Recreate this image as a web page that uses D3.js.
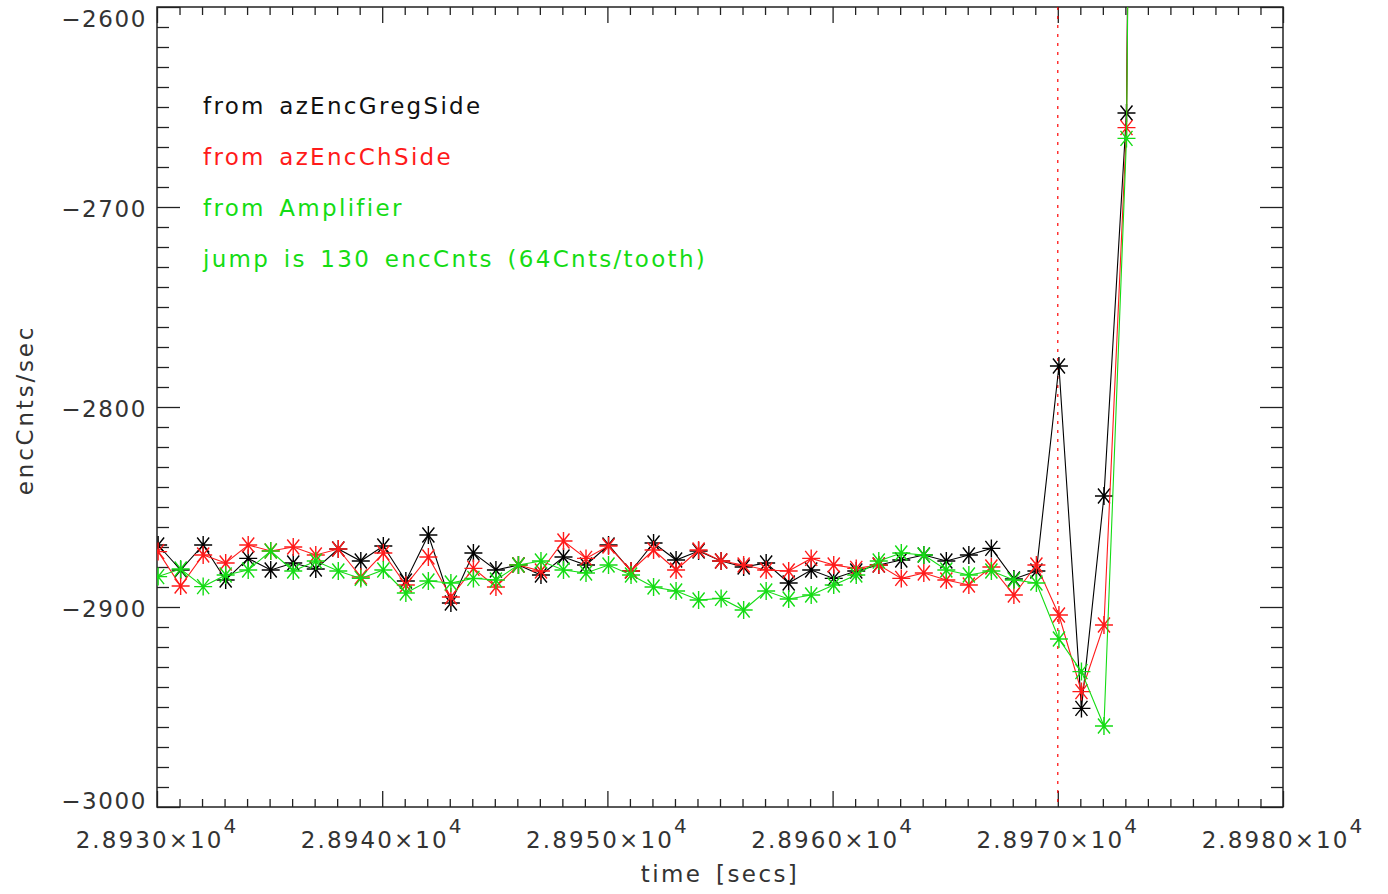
<!DOCTYPE html>
<html><head><meta charset="utf-8">
<script src="https://cdn.jsdelivr.net/npm/d3@7"></script>
<style>
html,body{margin:0;padding:0;background:#fff;}
svg text{font-family:"DejaVu Sans",sans-serif;}
</style></head>
<body><svg id="c" width="1388" height="894"></svg>
<script>
// ---- data ----
const times = [28930.05,28931.05,28932.05,28933.05,28934.05,28935.05,28936.05,28937.05,28938.05,28939.05,
  28940.05,28941.05,28942.05,28943.05,28944.05,28945.05,28946.05,28947.05,28948.05,28949.05,
  28950.05,28951.05,28952.05,28953.05,28954.05,28955.05,28956.05,28957.05,28958.05,28959.05,
  28960.05,28961.05,28962.05,28963.05,28964.05,28965.05,28966.05,28967.05,28968.05,28969.05,
  28970.05,28971.05,28972.05,28973.05,28974.05];
const gregSide = [-2869,-2881.5,-2869,-2886.5,-2875.7,-2881.5,-2878,-2881,-2871,-2877,
  -2869.5,-2887,-2864,-2898,-2873,-2881.5,-2879,-2884,-2875,-2879,
  -2869,-2882,-2868,-2876.5,-2872,-2877,-2880,-2878,-2888,-2881.5,
  -2885.7,-2882,-2879,-2876.5,-2874,-2877,-2874,-2870.7,-2886,-2882,
  -2779.5,-2950.7,-2844.5,-2653,-1450];
const chSide = [-2872.3,-2889.5,-2874,-2878,-2869,-2872,-2870,-2874,-2871,-2885,
  -2873,-2889,-2875,-2895,-2880.7,-2890,-2879,-2882,-2867,-2875.7,
  -2869.5,-2882,-2871.5,-2881.5,-2871.5,-2877,-2879,-2881.5,-2882,-2875.7,
  -2879,-2880.7,-2879,-2885.7,-2883,-2886.5,-2889,-2880,-2894,-2879,
  -2904,-2942.3,-2909,-2660.3,-1400];
const amplifier = [-2884.8,-2881,-2889.8,-2884,-2881.5,-2872,-2882,-2877,-2882,-2885.7,
  -2881.5,-2893,-2887,-2888,-2885.7,-2886.5,-2879,-2877,-2881.5,-2883,
  -2879,-2884,-2890,-2892,-2896.5,-2895.7,-2901.5,-2892,-2896,-2894,
  -2889,-2884,-2877,-2873,-2874,-2881.5,-2884,-2882,-2886.5,-2888,
  -2916,-2932.3,-2959.5,-2665.7,-1450];
const jumpTime = 28970;
const xMajorTicks = [28930,28940,28950,28960,28970,28980];
const xTickMantissa = ["2.8930","2.8940","2.8950","2.8960","2.8970","2.8980"];
const yMajorTicks = [-3000,-2900,-2800,-2700,-2600];
const legendTexts = ["from azEncGregSide","from azEncChSide","from Amplifier","jump is 130 encCnts (64Cnts/tooth)"];
const seriesList = [
  {name:"from azEncGregSide", values:gregSide, color:"#000000"},
  {name:"from azEncChSide", values:chSide, color:"#ff1a1a"},
  {name:"from Amplifier", values:amplifier, color:"#14dc14"}
];
const legendColors = ["#111111","#ff1a1a","#14dc14","#14dc14"];

// ---- layout ----
const L=157, R=1283, T=7, B=807;
const svg = d3.select("#c");
const x = d3.scaleLinear().domain([28930,28980]).range([L,R]);
const y = d3.scaleLinear().domain([-3000,-2600]).range([B,T]);
const axisColor="#222";

svg.append("defs").append("clipPath").attr("id","pc")
  .append("rect").attr("x",L).attr("y",T).attr("width",R-L).attr("height",B-T);

const xMinor = d3.range(28930,28981,1).filter(v=>!xMajorTicks.includes(v));
const yMinor = d3.range(-3000,-2599,10).filter(v=>!yMajorTicks.includes(v));

function styleAxis(g){ g.select(".domain").remove(); g.selectAll("line").attr("stroke",axisColor).attr("stroke-width",1.3); g.selectAll("text").remove(); }

svg.append("g").attr("transform",`translate(0,${B})`).call(d3.axisTop(x).tickValues(xMajorTicks).tickSize(16).tickFormat("")).call(styleAxis);
svg.append("g").attr("transform",`translate(0,${B})`).call(d3.axisTop(x).tickValues(xMinor).tickSize(8).tickFormat("")).call(styleAxis);
svg.append("g").attr("transform",`translate(0,${T})`).call(d3.axisBottom(x).tickValues(xMajorTicks).tickSize(16).tickFormat("")).call(styleAxis);
svg.append("g").attr("transform",`translate(0,${T})`).call(d3.axisBottom(x).tickValues(xMinor).tickSize(8).tickFormat("")).call(styleAxis);
svg.append("g").attr("transform",`translate(${L},0)`).call(d3.axisRight(y).tickValues(yMajorTicks).tickSize(23).tickFormat("")).call(styleAxis);
svg.append("g").attr("transform",`translate(${L},0)`).call(d3.axisRight(y).tickValues(yMinor).tickSize(12).tickFormat("")).call(styleAxis);
svg.append("g").attr("transform",`translate(${R},0)`).call(d3.axisLeft(y).tickValues(yMajorTicks).tickSize(23).tickFormat("")).call(styleAxis);
svg.append("g").attr("transform",`translate(${R},0)`).call(d3.axisLeft(y).tickValues(yMinor).tickSize(12).tickFormat("")).call(styleAxis);

svg.append("rect").attr("x",L).attr("y",T).attr("width",R-L).attr("height",B-T)
  .attr("fill","none").attr("stroke",axisColor).attr("stroke-width",1.5);

// y tick labels
svg.selectAll(".yl").data(yMajorTicks).enter().append("text")
  .attr("x",147).attr("y",d=>Math.max(27,Math.min(809,y(d)+10)))
  .attr("text-anchor","end").attr("font-size",23).attr("letter-spacing",1.6).attr("fill","#333")
  .text(d=>"\u2212"+Math.abs(d));

// x tick labels
xMajorTicks.forEach((v,i)=>{
  const t = svg.append("text").attr("x",x(v)).attr("y",848).attr("text-anchor","middle")
    .attr("font-size",23).attr("letter-spacing",2.1).attr("fill","#333");
  t.append("tspan").text(xTickMantissa[i]+"\u00d710");
  t.append("tspan").attr("dy",-15).attr("font-size",20).text("4");
});

// axis titles
svg.append("text").attr("x",720).attr("y",882).attr("text-anchor","middle")
  .attr("font-size",23).attr("letter-spacing",2.4).attr("word-spacing",4).attr("fill","#333").text("time [secs]");
svg.append("text").attr("transform","translate(33,410) rotate(-90)").attr("text-anchor","middle")
  .attr("font-size",23).attr("letter-spacing",2.8).attr("fill","#333").text("encCnts/sec");

// jump line
svg.append("line").attr("x1",x(jumpTime)).attr("x2",x(jumpTime)).attr("y1",T).attr("y2",B)
  .attr("stroke","#ff0000").attr("stroke-width",1.2).attr("stroke-dasharray","3,6");

// series
const plot = svg.append("g").attr("clip-path","url(#pc)");
const line = d3.line().x((d,i)=>x(times[i])).y(d=>y(d));
function star(){
  const h=9, dx=6, dy=7.5;
  return `M${-h},0L${h},0M0,${-h}L0,${h}M${-dx},${-dy}L${dx},${dy}M${-dx},${dy}L${dx},${-dy}`;
}
seriesList.forEach(s=>{
  plot.append("path").datum(s.values).attr("d",line).attr("fill","none")
    .attr("stroke",s.color).attr("stroke-width",1.1);
  plot.selectAll(null).data(s.values).enter().append("path")
    .attr("transform",(d,i)=>`translate(${x(times[i])},${y(d)})`)
    .attr("d",star()).attr("stroke",s.color).attr("stroke-width",1.4).attr("fill","none");
});

// legend
legendTexts.forEach((t,i)=>{
  svg.append("text").attr("x",203).attr("y",114+51*i).attr("font-size",23)
    .attr("letter-spacing",2.3).attr("word-spacing",4).attr("fill",legendColors[i]).text(t);
});
</script></body></html>
